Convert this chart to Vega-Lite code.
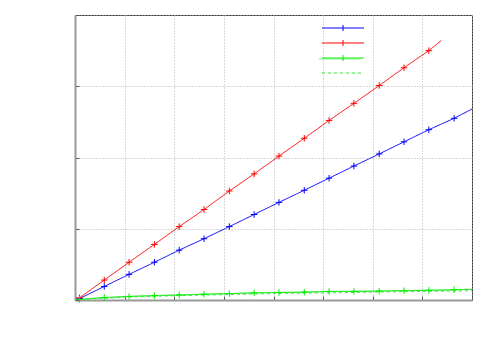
{
  "$schema": "https://vega.github.io/schema/vega-lite/v6.json",
  "autosize": "none",
  "width": 397,
  "height": 285,
  "padding": {"left": 75, "top": 15, "right": 28, "bottom": 50},
  "background": "white",
  "config": {
    "view": {"stroke": "#333", "strokeWidth": 1},
    "axis": {
      "labels": false, "title": null,
      "grid": true, "gridColor": "#b0b0b0", "gridDash": [1, 2], "gridWidth": 1,
      "domainColor": "#999", "domainWidth": 2,
      "tickColor": "#555", "tickSize": -4, "tickWidth": 1
    }
  },
  "data": {"values": [
    {"s": "a", "x": 0.09, "y": 0.02}, {"s": "a", "x": 0.59, "y": 0.19}, {"s": "a", "x": 1.09, "y": 0.36}, {"s": "a", "x": 1.6, "y": 0.53},
    {"s": "a", "x": 2.1, "y": 0.7}, {"s": "a", "x": 2.6, "y": 0.86}, {"s": "a", "x": 3.11, "y": 1.03}, {"s": "a", "x": 3.61, "y": 1.2},
    {"s": "a", "x": 4.11, "y": 1.37}, {"s": "a", "x": 4.62, "y": 1.54}, {"s": "a", "x": 5.12, "y": 1.71}, {"s": "a", "x": 5.62, "y": 1.88},
    {"s": "a", "x": 6.13, "y": 2.05}, {"s": "a", "x": 6.63, "y": 2.22}, {"s": "a", "x": 7.13, "y": 2.39}, {"s": "a", "x": 7.64, "y": 2.55},
    {"s": "a", "x": 8.0, "y": 2.68},
    {"s": "b", "x": 0.09, "y": 0.03}, {"s": "b", "x": 0.59, "y": 0.28}, {"s": "b", "x": 1.09, "y": 0.53}, {"s": "b", "x": 1.6, "y": 0.78},
    {"s": "b", "x": 2.1, "y": 1.03}, {"s": "b", "x": 2.6, "y": 1.27}, {"s": "b", "x": 3.11, "y": 1.53}, {"s": "b", "x": 3.61, "y": 1.77},
    {"s": "b", "x": 4.11, "y": 2.02}, {"s": "b", "x": 4.62, "y": 2.27}, {"s": "b", "x": 5.12, "y": 2.52}, {"s": "b", "x": 5.62, "y": 2.76},
    {"s": "b", "x": 6.13, "y": 3.01}, {"s": "b", "x": 6.63, "y": 3.26}, {"s": "b", "x": 7.13, "y": 3.5}, {"s": "b", "x": 7.38, "y": 3.64},
    {"s": "c", "x": 0.09, "y": 0.01}, {"s": "c", "x": 0.59, "y": 0.035}, {"s": "c", "x": 1.09, "y": 0.05}, {"s": "c", "x": 1.6, "y": 0.06},
    {"s": "c", "x": 2.1, "y": 0.07}, {"s": "c", "x": 2.6, "y": 0.08}, {"s": "c", "x": 3.11, "y": 0.09}, {"s": "c", "x": 3.61, "y": 0.1},
    {"s": "c", "x": 4.11, "y": 0.105}, {"s": "c", "x": 4.62, "y": 0.11}, {"s": "c", "x": 5.12, "y": 0.12}, {"s": "c", "x": 5.62, "y": 0.12},
    {"s": "c", "x": 6.13, "y": 0.125}, {"s": "c", "x": 6.63, "y": 0.13}, {"s": "c", "x": 7.13, "y": 0.135}, {"s": "c", "x": 7.64, "y": 0.145},
    {"s": "c", "x": 8.0, "y": 0.15},
    {"s": "d", "x": 0.0, "y": 0.0}, {"s": "d", "x": 1.0, "y": 0.04}, {"s": "d", "x": 2.0, "y": 0.06}, {"s": "d", "x": 3.0, "y": 0.075},
    {"s": "d", "x": 4.0, "y": 0.09}, {"s": "d", "x": 5.0, "y": 0.1}, {"s": "d", "x": 6.0, "y": 0.11}, {"s": "d", "x": 7.0, "y": 0.12},
    {"s": "d", "x": 8.0, "y": 0.13},
    {"s": "e", "x": 0.09, "y": 0.01}, {"s": "e", "x": 0.59, "y": 0.03}, {"s": "e", "x": 1.09, "y": 0.05}, {"s": "e", "x": 1.6, "y": 0.065},
    {"s": "e", "x": 2.1, "y": 0.07}, {"s": "e", "x": 2.6, "y": 0.085}, {"s": "e", "x": 3.11, "y": 0.09}, {"s": "e", "x": 3.61, "y": 0.1},
    {"s": "e", "x": 4.11, "y": 0.11}, {"s": "e", "x": 4.62, "y": 0.11}, {"s": "e", "x": 5.12, "y": 0.12}, {"s": "e", "x": 5.62, "y": 0.125},
    {"s": "e", "x": 6.13, "y": 0.125}, {"s": "e", "x": 6.63, "y": 0.135}, {"s": "e", "x": 7.13, "y": 0.14}, {"s": "e", "x": 7.64, "y": 0.14},
    {"s": "e", "x": 8.0, "y": 0.15}
  ]},
  "encoding": {
    "x": {"field": "x", "type": "quantitative", "scale": {"domain": [0, 8], "nice": false},
          "axis": {"values": [0, 1, 2, 3, 4, 5, 6, 7, 8]}},
    "y": {"field": "y", "type": "quantitative", "scale": {"domain": [0, 4], "nice": false},
          "axis": {"values": [0, 1, 2, 3, 4]}}
  },
  "layer": [
    {
      "transform": [{"filter": "datum.s === 'e'"}],
      "mark": {"type": "line", "color": "#8ef08e", "clip": true},
      "encoding": {
        "strokeWidth": {"field": "s", "type": "nominal",
          "scale": {"domain": ["e"], "range": [4]},
          "legend": {"orient": "none", "legendX": 265, "legendY": 44, "title": null, "labelExpr": "''",
            "symbolType": "M-7,0H7", "symbolSize": 36, "symbolStrokeColor": "#8ef08e", "symbolStrokeWidth": 4,
            "symbolOpacity": 1, "padding": 0}}
      }
    },
    {
      "transform": [{"filter": "datum.s !== 'e'"}],
      "mark": {"type": "line", "strokeWidth": 1, "clip": true},
      "encoding": {
        "color": {"field": "s", "type": "nominal",
          "scale": {"domain": ["a", "b", "c", "d"], "range": ["#0000ff", "#ff0000", "#00ee00", "#33ee33"]},
          "legend": {"orient": "none", "legendX": 263, "legendY": 8, "title": null, "labelExpr": "''",
            "symbolType": "M-7,0H7", "symbolSize": 36, "symbolStrokeWidth": 1, "rowPadding": 5, "padding": 0,
            "encode": {"symbols": {"update": {
              "fill": {"value": "transparent"},
              "shape": {"signal": "datum.value === 'd' ? 'M-7,0H7' : 'M-7,0H7M0,-1V1'"}
            }}}}},
        "strokeDash": {"field": "s", "type": "nominal",
          "scale": {"domain": ["a", "b", "c", "d"], "range": [[1, 0], [1, 0], [1, 0], [3, 3]]}}
      }
    },
    {
      "transform": [
        {"filter": "datum.s === 'a' || datum.s === 'b' || datum.s === 'c'"},
        {"window": [{"op": "row_number", "as": "rn"}], "groupby": ["s"], "sort": [{"field": "x", "order": "descending"}]},
        {"filter": "datum.rn > 1"}
      ],
      "mark": {"type": "point", "shape": "M-1,0H1M0,-1V1", "size": 42, "filled": false, "strokeWidth": 1, "opacity": 1},
      "encoding": {
        "color": {"field": "s", "type": "nominal", "legend": null}
      }
    }
  ]
}
